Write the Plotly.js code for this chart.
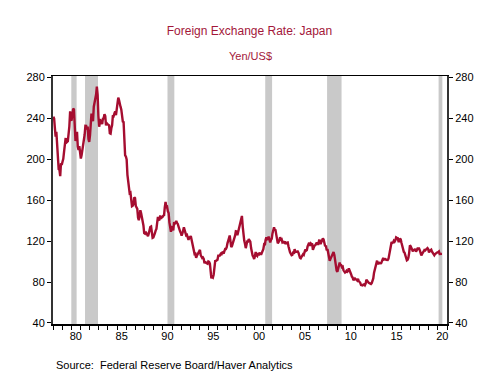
<!DOCTYPE html>
<html>
<head>
<meta charset="utf-8">
<script src="https://cdn.plot.ly/plotly-3.0.1.min.js"></script>
<style>html,body{margin:0;padding:0;background:#fff;}#chart{width:499px;height:374px;}</style>
</head>
<body>
<div id="chart"></div>
<script>
// Monthly average yen per US dollar, Jan 1978 - Jun 2020
const startYear = 1978;
const yen1978_1987 = [
  241.9, 240.0, 231.4, 222.3, 226.9, 213.8, 200.4, 190.4, 189.7, 183.7, 196.2, 194.7,
  197.7, 200.6, 206.9, 217.9, 220.0, 219.9, 217.1, 217.8, 223.2, 232.4, 247.1, 238.6,
  238.8, 243.9, 249.7, 248.9, 228.1, 218.0, 221.5, 227.0, 212.5, 209.3, 212.9, 208.9,
  200.9, 204.3, 208.6, 215.2, 222.3, 224.1, 232.9, 232.8, 229.4, 232.0, 220.0, 217.1,
  223.5, 233.9, 244.8, 240.3, 237.5, 251.6, 255.2, 259.1, 263.5, 271.1, 263.2, 242.4,
  232.0, 236.0, 238.1, 237.6, 234.5, 240.1, 240.5, 244.1, 242.5, 233.3, 235.3, 234.5,
  233.6, 233.3, 225.7, 225.3, 230.5, 233.6, 243.1, 242.5, 245.1, 246.9, 243.3, 247.8,
  254.2, 260.5, 258.4, 251.7, 251.6, 248.9, 241.5, 237.1, 236.5, 214.7, 204.1, 202.8,
  200.0, 184.9, 178.7, 175.1, 167.0, 167.5, 158.6, 154.2, 154.7, 156.5, 162.8, 162.1,
  154.5, 153.5, 151.6, 143.0, 140.5, 144.5, 150.3, 147.3, 143.3, 143.3, 135.4, 128.0
];
const yen1988_1997 = [
  127.4, 129.2, 127.1, 124.9, 124.8, 127.5, 133.0, 133.8, 134.3, 128.5, 123.2, 123.6,
  127.4, 127.8, 130.4, 132.0, 137.9, 143.8, 140.8, 141.1, 145.1, 141.9, 143.5, 143.7,
  145.1, 145.5, 153.0, 158.5, 153.5, 153.8, 149.3, 147.5, 138.4, 129.6, 129.2, 133.9,
  133.7, 130.5, 137.4, 137.1, 138.2, 139.8, 137.8, 136.8, 134.3, 130.8, 129.6, 128.0,
  125.5, 127.6, 132.7, 133.5, 130.8, 126.8, 125.7, 126.2, 122.6, 121.2, 123.8, 123.9,
  125.0, 120.8, 117.0, 112.4, 110.3, 107.4, 107.7, 103.8, 105.7, 107.0, 107.8, 109.7,
  111.5, 106.3, 105.1, 103.5, 104.0, 102.7, 98.5, 100.0, 98.8, 98.4, 98.0, 100.2,
  99.8, 98.2, 90.8, 83.7, 85.2, 84.5, 87.2, 94.7, 100.6, 100.8, 101.9, 101.9,
  105.8, 105.8, 105.9, 107.4, 106.5, 108.8, 109.2, 107.9, 109.9, 112.4, 112.3, 113.9,
  117.9, 122.9, 122.8, 125.6, 119.2, 114.3, 115.4, 117.9, 120.9, 121.1, 125.4, 129.7
];
const yen1998_2007 = [
  129.5, 125.8, 129.1, 131.8, 135.0, 140.3, 140.7, 144.7, 134.5, 121.3, 120.6, 117.4,
  113.2, 116.7, 119.7, 119.7, 122.0, 120.7, 119.6, 113.3, 107.4, 106.0, 104.7, 102.6,
  105.3, 109.4, 106.3, 105.6, 108.3, 106.1, 108.2, 108.1, 106.8, 108.4, 109.0, 112.2,
  116.7, 116.1, 121.2, 123.8, 121.8, 122.2, 124.6, 121.5, 118.9, 121.3, 122.4, 127.6,
  132.7, 133.6, 131.1, 130.8, 126.4, 123.3, 118.0, 119.0, 120.5, 123.9, 121.6, 121.9,
  118.8, 119.3, 118.7, 119.9, 117.4, 118.3, 118.7, 118.7, 114.8, 109.5, 109.2, 107.7,
  106.3, 106.7, 108.5, 107.7, 112.2, 109.4, 109.5, 110.2, 110.1, 108.8, 104.7, 103.8,
  103.3, 104.9, 104.9, 107.2, 106.6, 108.8, 111.9, 110.6, 111.2, 114.9, 118.5, 118.5,
  115.5, 117.9, 117.3, 117.1, 111.5, 114.5, 115.6, 115.9, 117.2, 118.6, 117.3, 117.3,
  120.6, 120.5, 117.3, 118.8, 120.8, 122.6, 121.6, 116.7, 115.0, 115.8, 111.1, 112.4
];
const yen2008_2020 = [
  107.8, 107.1, 100.8, 102.7, 104.4, 106.9, 106.9, 109.4, 106.6, 100.1, 96.8, 91.3,
  90.1, 92.9, 97.9, 99.0, 96.6, 96.6, 94.5, 95.0, 91.5, 90.4, 89.3, 89.9,
  91.1, 90.1, 90.7, 93.4, 91.8, 90.9, 87.7, 85.4, 84.4, 81.8, 82.6, 83.4,
  82.6, 82.5, 81.6, 83.2, 81.1, 80.4, 79.3, 77.1, 76.8, 76.7, 77.5, 77.8,
  76.9, 78.5, 82.4, 81.3, 79.7, 79.3, 79.0, 78.7, 78.2, 79.0, 80.9, 83.6,
  89.2, 93.1, 94.8, 97.8, 101.0, 97.3, 99.7, 97.8, 99.2, 97.8, 100.1, 103.5,
  103.5, 102.1, 102.3, 102.5, 101.8, 102.1, 101.7, 102.9, 107.1, 108.0, 116.2, 119.3,
  118.3, 118.8, 120.4, 119.5, 120.8, 123.7, 123.3, 123.1, 120.0, 120.1, 122.6, 121.6,
  118.2, 114.7, 112.9, 109.6, 108.9, 105.3, 103.9, 101.3, 101.9, 103.8, 108.6, 116.0,
  114.9, 113.2, 112.9, 110.0, 112.2, 110.9, 112.5, 109.8, 111.1, 112.9, 112.8, 112.9,
  110.9, 107.8, 106.0, 107.6, 109.7, 110.1, 111.4, 111.0, 111.9, 112.8, 113.2, 112.1,
  109.0, 110.5, 111.2, 111.6, 109.8, 108.1, 108.2, 106.2, 107.5, 108.2, 108.9, 109.1,
  109.3, 110.0, 107.5, 107.7, 107.2, 107.6
];
// NBER recessions
const recessionStarts = ['1980-01-01', '1981-07-01', '1990-07-01', '2001-03-01', '2007-12-01', '2020-02-01'];
const recessionEnds   = ['1980-07-31', '1982-11-30', '1991-03-31', '2001-11-30', '2009-06-30', '2020-06-30'];
const yTicks = [40, 80, 120, 160, 200, 240, 280];
const labelYears = [1980, 1985, 1990, 1995, 2000, 2005, 2010, 2015, 2020];
const labelText = ['80', '85', '90', '95', '00', '05', '10', '15', '20'];

const yearTicks = [];
for (let y = 1978; y <= 2021; y++) yearTicks.push(y + '-01-01');
const labelVals = labelYears.map(y => y + '-07-01');

const values = [].concat(yen1978_1987, yen1988_1997, yen1998_2007, yen2008_2020);
const dates = values.map((v, i) => {
  const yr = startYear + Math.floor(i / 12);
  const m = (i % 12) + 1;
  return yr + '-' + (m < 10 ? '0' + m : m) + '-15';
});

const font = 'Arial, "Liberation Sans", sans-serif';
const titleColor = '#a3173a';
const lineColor = '#a50d30';
const yRange = [39, 281.6];
const xRange = ['1978-01-01', '2021-01-01'];

const shapes = recessionStarts.map((s, i) => ({
  type: 'rect', xref: 'x', yref: 'paper', x0: s, x1: recessionEnds[i], y0: 0, y1: 1,
  fillcolor: '#c9c9c9', line: {width: 0}, layer: 'below'
}));

const traces = [
  {x: dates, y: values, type: 'scatter', mode: 'lines', line: {color: lineColor, width: 2.4}, hoverinfo: 'skip'},
  {x: dates, y: values, type: 'scatter', mode: 'lines', xaxis: 'x2', yaxis: 'y2', line: {color: 'rgba(0,0,0,0)', width: 0}, hoverinfo: 'skip'}
];

const tickFont = {family: font, size: 11, color: '#000'};

const layout = {
  width: 499, height: 374,
  margin: {l: 53, r: 52, t: 75.5, b: 49.7, pad: 0},
  paper_bgcolor: '#fff', plot_bgcolor: 'rgba(0,0,0,0)',
  showlegend: false,
  font: {family: font, size: 11, color: '#000'},
  title: {text: 'Foreign Exchange Rate: Japan', font: {family: font, size: 12, color: titleColor},
          x: 0.5, xanchor: 'center', y: 1 - 31 / 374, yanchor: 'middle', yref: 'container'},
  xaxis: {
    type: 'date', range: xRange,
    tickmode: 'array', tickvals: yearTicks, ticktext: yearTicks.map(() => ''),
    ticks: 'outside', ticklen: 4, tickwidth: 1, tickcolor: '#000',
    showgrid: false, zeroline: false,
    showline: true, linecolor: '#000', linewidth: 1.5, mirror: true,
    tickfont: tickFont
  },
  xaxis2: {
    type: 'date', range: xRange, overlaying: 'x', anchor: 'y', side: 'bottom',
    tickmode: 'array', tickvals: labelVals, ticktext: labelText,
    ticks: '', ticklabelstandoff: 4,
    showgrid: false, zeroline: false, showline: false,
    tickfont: tickFont
  },
  yaxis: {
    range: yRange, tickmode: 'array', tickvals: yTicks,
    ticks: 'outside', ticklen: 4, tickwidth: 1, tickcolor: '#000',
    showgrid: false, zeroline: false,
    showline: true, linecolor: '#333', linewidth: 2,
    tickfont: tickFont
  },
  yaxis2: {
    range: yRange, tickmode: 'array', tickvals: yTicks, overlaying: 'y', side: 'right', anchor: 'x',
    ticks: 'outside', ticklen: 4, tickwidth: 1, tickcolor: '#000',
    showgrid: false, zeroline: false,
    showline: true, linecolor: '#333', linewidth: 2,
    tickfont: tickFont
  },
  shapes: shapes,
  annotations: [
    {text: 'Yen/US$', xref: 'paper', yref: 'paper', x: 0.5, y: (324.3 - 55) / 248.8,
     xanchor: 'center', yanchor: 'middle', showarrow: false,
     font: {family: font, size: 11, color: titleColor}},
    {text: 'Source:  Federal Reserve Board/Haver Analytics', xref: 'paper', yref: 'paper',
     x: (54 - 53) / 393.7, y: (324.3 - 365) / 248.8, xanchor: 'left', yanchor: 'middle', showarrow: false,
     font: {family: font, size: 11, color: '#000'}}
  ]
};

Plotly.newPlot('chart', traces, layout, {staticPlot: true, displayModeBar: false});
</script>
</body>
</html>
